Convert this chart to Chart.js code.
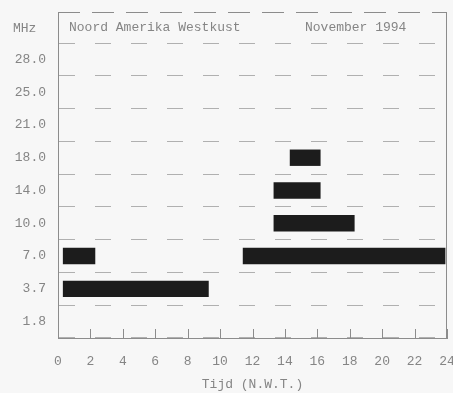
<!DOCTYPE html>
<html>
<head>
<meta charset="utf-8">
<script src="https://cdn.jsdelivr.net/npm/chart.js@4/dist/chart.umd.min.js"></script>
<style>
  html, body { margin: 0; padding: 0; background: #f7f7f7; }
  #wrap { width: 453px; height: 393px; }
</style>
</head>
<body>
<div id="wrap"><canvas id="propChart" width="453" height="393"></canvas></div>
<script>
// frequency bands (MHz), top to bottom
const bands = ["28.0", "25.0", "21.0", "18.0", "14.0", "10.0", "7.0", "3.7", "1.8"];
// opening times per band, hours
const openFrom = [null, null, null, 14.3, 13.3, 13.3, 0.3, 0.3, null];
const openTo   = [null, null, null, 16.2, 16.2, 18.3, 2.3, 9.3, null];
// second opening (only on 7.0)
const open2From = [null, null, null, null, null, null, 11.4, null, null];
const open2To   = [null, null, null, null, null, null, 23.9, null, null];
const hourTicks = [0, 2, 4, 6, 8, 10, 12, 14, 16, 18, 20, 22, 24];

const titleLeft = "Noord Amerika Westkust";
const titleRight = "November 1994";
const unitLabel = "MHz";
const xTitle = "Tijd (N.W.T.)";

const mono = "'Liberation Mono', 'DejaVu Sans Mono', monospace";
const grey = "#858585";

const toRanges = (a, b) => a.map((v, i) => (v === null ? null : [v, b[i]]));

// header box, MHz label, right frame and inward hour ticks
const framePlugin = {
  id: "frame",
  afterDraw(chart) {
    const { ctx, chartArea: a, scales } = chart;
    ctx.save();
    ctx.strokeStyle = "#8c8c8c";
    ctx.lineWidth = 1;
    ctx.beginPath();
    ctx.moveTo(a.left + 0.5, 12);
    ctx.lineTo(a.left + 0.5, a.top);
    ctx.moveTo(a.right - 0.5, 12);
    ctx.lineTo(a.right - 0.5, a.bottom);
    ctx.stroke();
    ctx.setLineDash([22, 12]);
    ctx.beginPath();
    ctx.moveTo(a.left, 12.5);
    ctx.lineTo(a.right, 12.5);
    ctx.stroke();
    ctx.setLineDash([]);

    ctx.beginPath();
    hourTicks.forEach(h => {
      const x = Math.round(scales.x.getPixelForValue(h)) + 0.5;
      ctx.moveTo(x, a.bottom);
      ctx.lineTo(x, a.bottom - 9);
    });
    ctx.stroke();

    ctx.fillStyle = grey;
    ctx.font = "13px " + mono;
    ctx.textBaseline = "middle";
    ctx.textAlign = "left";
    ctx.fillText(titleLeft, 69, 28);
    ctx.fillText(titleRight, 305, 28);
    ctx.fillText(unitLabel, 13, 29);
    ctx.restore();
  }
};

new Chart(document.getElementById("propChart"), {
  type: "bar",
  data: {
    labels: bands,
    datasets: [
      {
        data: toRanges(openFrom, openTo),
        backgroundColor: "#1c1c1c",
        grouped: false,
        barPercentage: 0.5,
        categoryPercentage: 1
      },
      {
        data: toRanges(open2From, open2To),
        backgroundColor: "#1c1c1c",
        grouped: false,
        barPercentage: 0.5,
        categoryPercentage: 1
      }
    ]
  },
  options: {
    indexAxis: "y",
    responsive: false,
    animation: false,
    layout: { padding: { top: 43, right: 6, left: 0, bottom: 0 } },
    plugins: { legend: { display: false }, tooltip: { enabled: false } },
    scales: {
      x: {
        type: "linear",
        min: 0,
        max: 24,
        afterFit: s => { s.height = 55; s.paddingLeft = 0; s.paddingRight = 0; },
        afterBuildTicks: s => { s.ticks = hourTicks.map(v => ({ value: v })); },
        ticks: { color: grey, font: { family: mono, size: 13 }, padding: 8, maxRotation: 0 },
        grid: { display: false },
        border: { display: true, color: "#8c8c8c", width: 1 },
        title: {
          display: true,
          text: xTitle,
          color: grey,
          font: { family: mono, size: 13 },
          padding: { top: 0, bottom: 1 }
        }
      },
      y: {
        type: "category",
        afterFit: s => { s.width = 58; },
        ticks: { color: grey, font: { family: mono, size: 13 }, padding: 12 },
        grid: { color: "#b0b0b0", lineWidth: 1, drawTicks: false },
        border: { display: true, color: "#8c8c8c", width: 1, dash: [16, 20] }
      }
    }
  },
  plugins: [framePlugin]
});
</script>
</body>
</html>
